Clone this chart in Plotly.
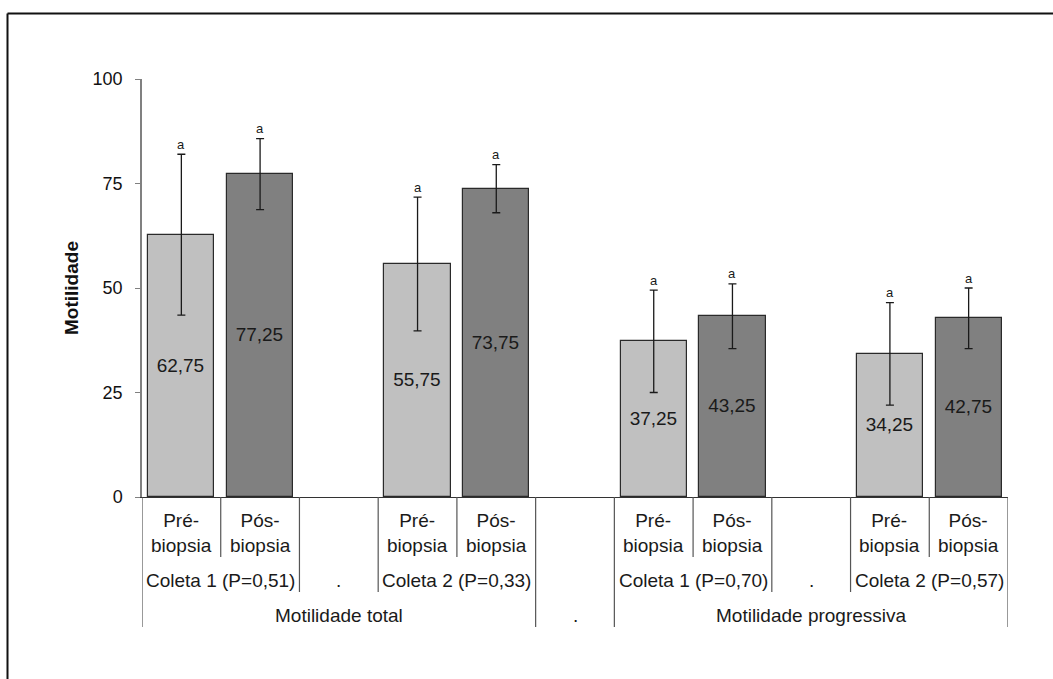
import plotly.graph_objects as go

# Sperm motility before and after testicular biopsy, two collections each
stage_labels = ["Pré-<br>biopsia", "Pós-<br>biopsia"]
coleta_labels = ["Coleta 1 (P=0,51)", "Coleta 2 (P=0,33)",
                 "Coleta 1 (P=0,70)", "Coleta 2 (P=0,57)"]
group_labels = ["Motilidade total", "Motilidade progressiva"]

pre_values = [62.75, 55.75, 37.25, 34.25]
pos_values = [77.25, 73.75, 43.25, 42.75]
pre_errors = [19.25, 16.0, 12.25, 12.25]
pos_errors = [8.5, 5.75, 7.75, 7.25]
pre_letters = ["a", "a", "a", "a"]
pos_letters = ["a", "a", "a", "a"]

y_ticks = [0, 25, 50, 75, 100]

FONT = "Liberation Sans, Arial, sans-serif"
LIGHT = "#c0c0c0"
DARK = "#808080"
EDGE = "#2a2a2a"
SEP = "#555555"

# Slot layout: each collection takes two slots, followed by one empty slot
pre_x = [3 * k for k in range(len(coleta_labels))]
pos_x = [3 * k + 1 for k in range(len(coleta_labels))]


def fmt(v):
    return f"{v:.2f}".replace(".", ",")


fig = go.Figure()
for xs, vals, errs, color in [(pre_x, pre_values, pre_errors, LIGHT),
                              (pos_x, pos_values, pos_errors, DARK)]:
    fig.add_trace(go.Bar(
        x=xs, y=vals, width=0.84,
        marker=dict(color=color, line=dict(color=EDGE, width=1.2)),
        text=[fmt(v) for v in vals],
        textposition="inside", insidetextanchor="middle", textangle=0,
        textfont=dict(family=FONT, size=19, color="#1a1a1a"),
        error_y=dict(type="data", array=errs, color="#1a1a1a",
                     thickness=1.3, width=4),
        showlegend=False, hoverinfo="skip",
    ))

annotations = []
shapes = []

# significance letters above the error bars
for xs, vals, errs, letters in [(pre_x, pre_values, pre_errors, pre_letters),
                                (pos_x, pos_values, pos_errors, pos_letters)]:
    for x, v, e, t in zip(xs, vals, errs, letters):
        annotations.append(dict(x=x, y=v + e, xref="x", yref="y", text=t,
                                showarrow=False, yanchor="middle", yshift=10,
                                font=dict(family=FONT, size=13, color="#1a1a1a")))

PX = 418.0  # plot height in px, used to place rows below the axis


def py(offset):
    return -offset / PX


ROW1, ROW2, ROW3 = py(35.5), py(83), py(118)
cat_font = dict(family=FONT, size=19, color="#1a1a1a")

# first level: stage labels
for k in range(len(coleta_labels)):
    for j, lab in enumerate(stage_labels):
        annotations.append(dict(x=3 * k + j, y=ROW1, xref="x", yref="paper",
                                text=lab, showarrow=False, font=cat_font,
                                yanchor="middle"))
# second level: collections, with a dot in the gap inside each group
for k, lab in enumerate(coleta_labels):
    annotations.append(dict(x=3 * k + 0.5, y=ROW2, xref="x", yref="paper",
                            text=lab, showarrow=False, font=cat_font,
                            yanchor="middle"))
for g in range(len(group_labels)):
    annotations.append(dict(x=6 * g + 2, y=ROW2, xref="x", yref="paper",
                            text=".", showarrow=False, font=cat_font,
                            yanchor="middle"))
# third level: motility type, with a dot in the gap between groups
for g, lab in enumerate(group_labels):
    annotations.append(dict(x=6 * g + 2, y=ROW3, xref="x", yref="paper",
                            text=lab, showarrow=False, font=cat_font,
                            yanchor="middle"))
annotations.append(dict(x=5, y=ROW3, xref="x", yref="paper", text=".",
                        showarrow=False, font=cat_font, yanchor="middle"))

# category separators: depth depends on which level the boundary closes
L1, L2, L3 = py(60), py(95), py(130)
depth = {}
for b in range(12):
    bx = b - 0.5
    if b in (0, 5, 6, 11):
        depth[bx] = L3
    elif b in (2, 3, 8, 9):
        depth[bx] = L2
    else:
        depth[bx] = L1
for bx, y1 in depth.items():
    shapes.append(dict(type="line", xref="x", yref="paper", x0=bx, x1=bx,
                       y0=0, y1=y1, line=dict(color=SEP, width=1.2)))

# outer frame
shapes.append(dict(type="line", xref="paper", yref="paper",
                   x0=(7.5 - 142) / 866, x1=1.3,
                   y0=(497 - 13.5) / PX, y1=(497 - 13.5) / PX,
                   line=dict(color="#111111", width=2)))
shapes.append(dict(type="line", xref="paper", yref="paper",
                   x0=(7.5 - 142) / 866, x1=(7.5 - 142) / 866,
                   y0=(497 - 13.5) / PX, y1=-0.6,
                   line=dict(color="#111111", width=2)))

fig.update_layout(
    width=1053, height=679,
    margin=dict(l=142, r=45, t=79, b=182, autoexpand=False),
    paper_bgcolor="white", plot_bgcolor="white",
    bargap=0, barmode="overlay",
    annotations=annotations, shapes=shapes,
    xaxis=dict(range=[-0.5, 10.5], showticklabels=False, ticks="",
               showgrid=False, zeroline=False, showline=True,
               linecolor="#333333", linewidth=1.2, fixedrange=True),
    yaxis=dict(range=[0, 100], tickvals=y_ticks,
               ticktext=[str(t) for t in y_ticks],
               ticks="outside", ticklen=5, tickcolor="#808080", tickwidth=1.2,
               showline=True, linecolor="#808080", linewidth=1.5,
               showgrid=False, zeroline=False, ticklabelstandoff=9,
               tickfont=dict(family=FONT, size=18, color="#111111"),
               title=dict(text="<b>Motilidade</b>", standoff=9,
                          font=dict(family=FONT, size=19, color="#111111")),
               fixedrange=True),
)

fig.write_html("out.html")
